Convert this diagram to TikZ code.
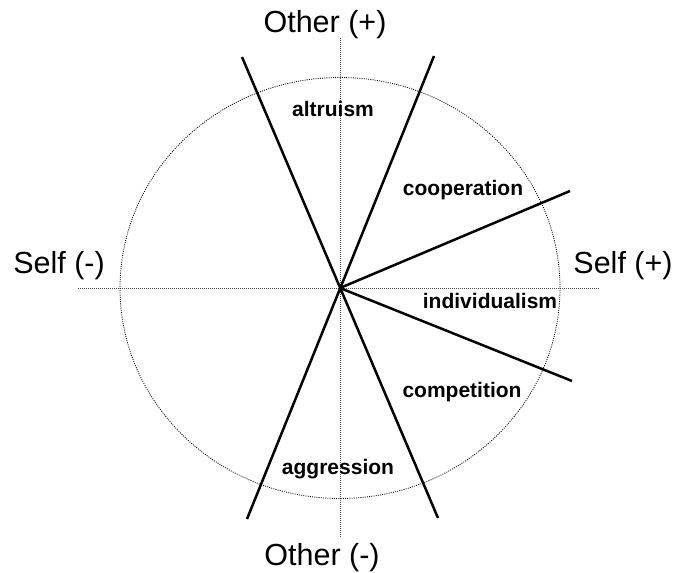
\documentclass[tikz,border=0pt]{standalone}
\usepackage{fontspec}
\setmainfont{Liberation Sans}
\begin{document}
\begin{tikzpicture}[x=1pt,y=-1pt,
  axis/.style={draw=black!70,line width=1pt,dash pattern=on 1pt off 1pt},
  ring/.style={draw=black,line width=0.8pt,dash pattern=on 1pt off 1.2pt},
  divider/.style={draw=black,line width=2.5pt},
  biglabel/.style={anchor=base,inner sep=0pt,font=\fontsize{30.5}{36}\selectfont},
  zonelabel/.style={anchor=base,inner sep=0pt,font=\fontsize{21}{25}\selectfont\bfseries}]
\useasboundingbox (0,0) rectangle (676,572);
\coordinate (O) at (340,288);
\coordinate (vt) at (340,38);
\coordinate (vb) at (340,538);
\coordinate (hl) at (78,288);
\coordinate (hr) at (600,288);
\draw[axis] (vt) -- (vb);
\draw[axis] (hl) -- (hr);
\draw[ring] (O) ellipse [x radius=220, y radius=210.5];
\coordinate (a1) at (242,57);
\coordinate (a2) at (438,518);
\coordinate (b1) at (434,56);
\coordinate (b2) at (247,519);
\coordinate (c1) at (570,191);
\coordinate (d1) at (572,381);
\draw[divider] (a1) -- (a2);
\draw[divider] (b1) -- (b2);
\draw[divider] (O) -- (c1);
\draw[divider] (O) -- (d1);
\node[biglabel] (op) at (325,33) {Other (+)};
\node[biglabel] (om) at (322,565) {Other (-)};
\node[biglabel] (sm) at (59,273) {Self (-)};
\node[biglabel] (sp) at (623,273) {Self (+)};
\node[zonelabel] (alt) at (333,117) {altruism};
\node[zonelabel] (coop) at (463,195) {cooperation};
\node[zonelabel] (ind) at (490,308) {individualism};
\node[zonelabel] (comp) at (462,397) {competition};
\node[zonelabel] (agg) at (338,474) {aggression};
\end{tikzpicture}
\end{document}
